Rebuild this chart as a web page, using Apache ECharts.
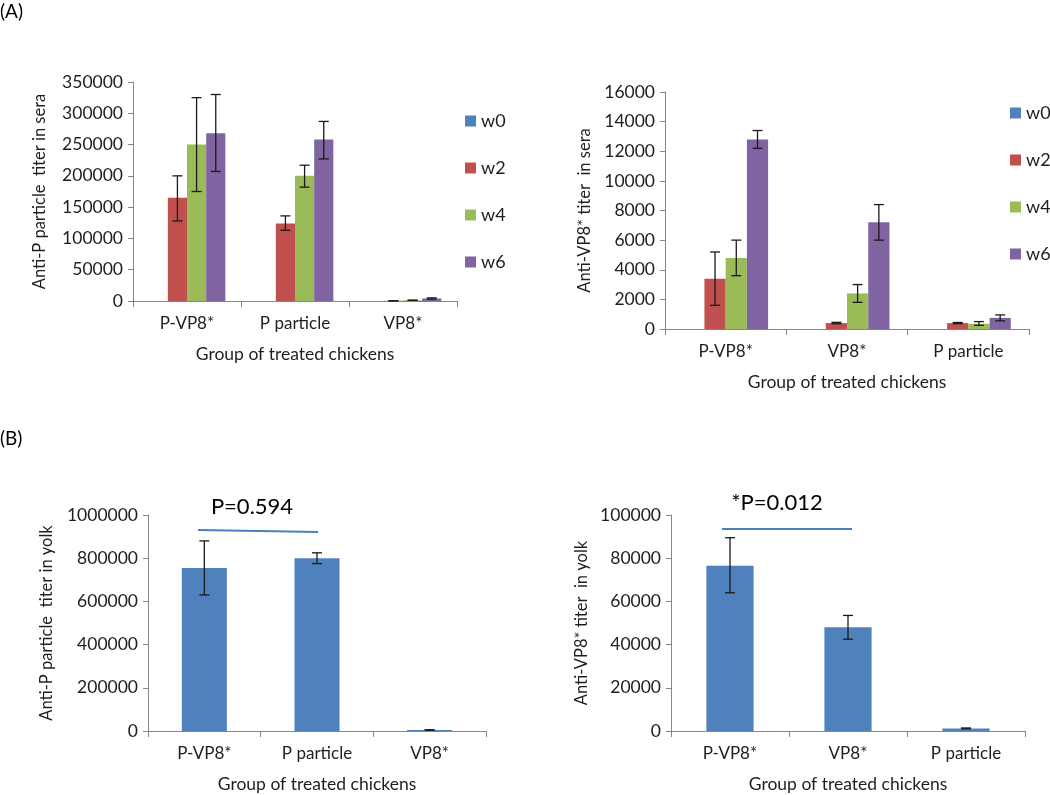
<!DOCTYPE html>
<html>
<head>
<meta charset="utf-8">
<script src="https://cdn.jsdelivr.net/npm/echarts@6/dist/echarts.min.js"></script>
<style>
  html, body { margin: 0; padding: 0; background: #fff; }
  #main { width: 1050px; height: 795px; }
</style>
</head>
<body>
<div id="main"></div>
<script>
// categories
var catSeraP = ['P-VP8*', 'P particle', 'VP8*'];
var catSeraVP8 = ['P-VP8*', 'VP8*', 'P particle'];
var catYolkP = ['P-VP8*', 'P particle', 'VP8*'];
var catYolkVP8 = ['P-VP8*', 'VP8*', 'P particle'];
var weeks = ['w0', 'w2', 'w4', 'w6'];

// (A) anti-P particle titer in sera, by week
var seraP_w0 = [0, 0, 0];
var seraP_w2 = [165000, 124000, 300];
var seraP_w4 = [250000, 200000, 1200];
var seraP_w6 = [268000, 258000, 4000];
var seraP_lo = [[0, 0, 0], [128000, 113000, 300], [175000, 182000, 1200], [207000, 227000, 3000]];
var seraP_hi = [[0, 0, 0], [200000, 136000, 300], [325000, 217000, 1200], [330000, 287000, 5000]];

// (A) anti-VP8* titer in sera, by week
var seraV_w0 = [0, 0, 0];
var seraV_w2 = [3400, 400, 400];
var seraV_w4 = [4800, 2400, 350];
var seraV_w6 = [12800, 7200, 750];
var seraV_lo = [[0, 0, 0], [1600, 350, 360], [3600, 1800, 250], [12200, 6000, 550]];
var seraV_hi = [[0, 0, 0], [5200, 450, 440], [6000, 3000, 500], [13400, 8400, 950]];

// (B) titers in yolk
var yolkP = [755000, 800000, 5000];
var yolkP_lo = [630000, 775000, 4000];
var yolkP_hi = [880000, 825000, 6000];
var yolkV = [76500, 48000, 1200];
var yolkV_lo = [64000, 42500, 1000];
var yolkV_hi = [89500, 53500, 1400];

var colors = ['#4f81bd', '#c0504d', '#9bbb59', '#8064a2'];
var font = 'Lato, "Open Sans", sans-serif';
var txt = '#1e1e1e';
var axisGray = '#868686';

var chart = echarts.init(document.getElementById('main'));

// error bars drawn over grouped bars
function errSeries(axisIdx, lo, hi, idx, n, gap) {
    var data = lo.map(function (v, i) { return [i, v, hi[i]]; });
    return {
        type: 'custom',
        xAxisIndex: axisIdx,
        yAxisIndex: axisIdx,
        silent: true,
        z: 5,
        data: data,
        renderItem: function (params, api) {
            var c = api.value(0);
            var pLo = api.coord([c, api.value(1)]);
            var pHi = api.coord([c, api.value(2)]);
            var band = api.size([1, 0])[0];
            var barW = band * (1 - gap) / n;
            var x = pLo[0] + (idx - (n - 1) / 2) * barW;
            var w = 5;
            var st = { stroke: '#1a1a1a', lineWidth: 1.3 };
            return {
                type: 'group',
                children: [
                    { type: 'line', shape: { x1: x, y1: pLo[1], x2: x, y2: pHi[1] }, style: st },
                    { type: 'line', shape: { x1: x - w, y1: pLo[1], x2: x + w, y2: pLo[1] }, style: st },
                    { type: 'line', shape: { x1: x - w, y1: pHi[1], x2: x + w, y2: pHi[1] }, style: st }
                ]
            };
        }
    };
}

function xAx(idx, cats) {
    return {
        type: 'category', gridIndex: idx, data: cats,
        name: 'Group of treated chickens', nameLocation: 'middle', nameGap: 44,
        nameTextStyle: { fontFamily: font, fontSize: 17.5, color: txt },
        axisLine: { lineStyle: { color: axisGray } },
        axisTick: { show: true, length: 6, lineStyle: { color: axisGray } },
        axisLabel: { fontFamily: font, fontSize: 17, color: txt, margin: 14 }
    };
}

function yAx(idx, name, max, interval, gap) {
    return {
        type: 'value', gridIndex: idx, min: 0, max: max, interval: interval,
        name: name, nameLocation: 'middle', nameGap: gap, nameRotate: 90,
        nameTextStyle: { fontFamily: font, fontSize: 16.5, color: txt },
        axisLine: { show: true, lineStyle: { color: axisGray } },
        axisTick: { show: true, length: 5, lineStyle: { color: axisGray } },
        splitLine: { show: false },
        axisLabel: {
            fontFamily: font, fontSize: 17.5, color: txt, margin: 10,
            formatter: function (v) { return String(v); }
        }
    };
}

var gapA1 = 0.29, gapA2 = 0.30, gapB = 0.60;
var seraPVals = [seraP_w0, seraP_w2, seraP_w4, seraP_w6];
var seraVVals = [seraV_w0, seraV_w2, seraV_w4, seraV_w6];

var series = [];
weeks.forEach(function (w, i) {
    series.push({
        name: w, type: 'bar', xAxisIndex: 0, yAxisIndex: 0, data: seraPVals[i],
        barGap: '0%', barCategoryGap: (gapA1 * 100) + '%',
        itemStyle: { color: colors[i] }
    });
});
weeks.forEach(function (w, i) {
    if (i > 0) series.push(errSeries(0, seraP_lo[i], seraP_hi[i], i, 4, gapA1));
});
weeks.forEach(function (w, i) {
    series.push({
        name: w, type: 'bar', xAxisIndex: 1, yAxisIndex: 1, data: seraVVals[i],
        barGap: '0%', barCategoryGap: (gapA2 * 100) + '%',
        itemStyle: { color: colors[i] }
    });
});
weeks.forEach(function (w, i) {
    if (i > 0) series.push(errSeries(1, seraV_lo[i], seraV_hi[i], i, 4, gapA2));
});
series.push({
    name: 'yolkP', type: 'bar', xAxisIndex: 2, yAxisIndex: 2, data: yolkP,
    barCategoryGap: (gapB * 100) + '%', itemStyle: { color: colors[0] }
});
series.push(errSeries(2, yolkP_lo, yolkP_hi, 0, 1, gapB));
series.push({
    name: 'yolkV', type: 'bar', xAxisIndex: 3, yAxisIndex: 3, data: yolkV,
    barCategoryGap: (gapB * 100) + '%', itemStyle: { color: colors[0] }
});
series.push(errSeries(3, yolkV_lo, yolkV_hi, 0, 1, gapB));

function legendAt(left, top) {
    return {
        data: weeks, orient: 'vertical', left: left, top: top,
        icon: 'rect', itemWidth: 11, itemHeight: 11, itemGap: 29,
        selectedMode: false,
        textStyle: { fontFamily: font, fontSize: 18, color: txt, lineHeight: 11 }
    };
}

var option = {
    animation: false,
    backgroundColor: '#fff',
    grid: [
        { left: 133, top: 82, width: 324, height: 219 },
        { left: 665, top: 92, width: 364, height: 237 },
        { left: 148, top: 515, width: 338, height: 216 },
        { left: 671, top: 515, width: 354, height: 216 }
    ],
    xAxis: [xAx(0, catSeraP), xAx(1, catSeraVP8), xAx(2, catYolkP), xAx(3, catYolkVP8)],
    yAxis: [
        yAx(0, 'Anti-P particle  titer in sera', 350000, 50000, 85),
        yAx(1, 'Anti-VP8* titer  in sera', 16000, 2000, 72),
        yAx(2, 'Anti-P particle  titer in yolk', 1000000, 200000, 93),
        yAx(3, 'Anti-VP8* titer  in yolk', 100000, 20000, 81)
    ],
    legend: [legendAt(460, 107), legendAt(1005, 99)],
    series: series,
    graphic: [
        { type: 'text', left: 0, top: 2, style: { text: '(A)', fontFamily: font, fontSize: 19, fill: '#000' } },
        { type: 'text', left: 0, top: 429, style: { text: '(B)', fontFamily: font, fontSize: 19, fill: '#000' } },
        { type: 'text', x: 252, y: 507, style: { text: 'P=0.594', fontFamily: font, fontSize: 22, fill: '#000', align: 'center', verticalAlign: 'middle' } },
        { type: 'line', shape: { x1: 198, y1: 530, x2: 318, y2: 532 }, style: { stroke: '#4a7ebb', lineWidth: 2 } },
        { type: 'text', x: 777, y: 503, style: { text: '*P=0.012', fontFamily: font, fontSize: 22, fill: '#000', align: 'center', verticalAlign: 'middle' } },
        { type: 'line', shape: { x1: 722, y1: 529, x2: 852, y2: 529 }, style: { stroke: '#4a7ebb', lineWidth: 2 } }
    ]
};

chart.setOption(option);
</script>
</body>
</html>
